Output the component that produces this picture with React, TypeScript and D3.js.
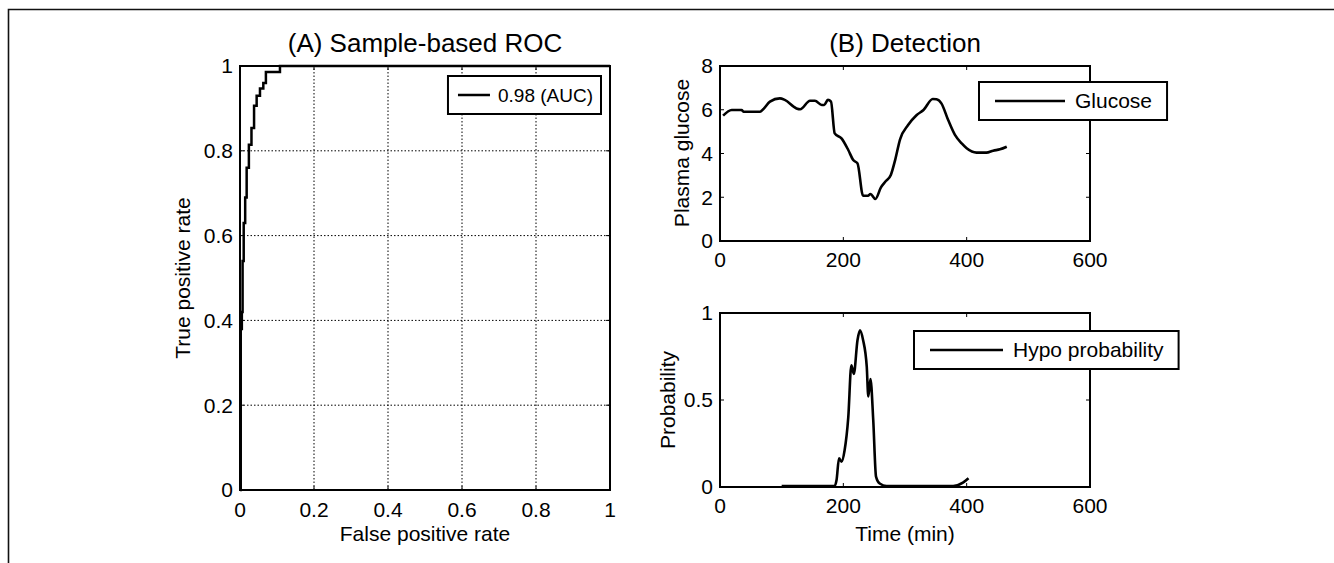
import React, { useEffect, useRef } from "react";
import * as d3 from "d3";

// (A) ROC curve, stair-step corners
const rocFpr = [0, 0.002, 0.005, 0.007, 0.01, 0.014, 0.018, 0.024, 0.031, 0.038, 0.045, 0.054, 0.063, 0.07, 0.108, 1];
const rocTpr = [0, 0.38, 0.42, 0.54, 0.63, 0.69, 0.76, 0.814, 0.854, 0.906, 0.93, 0.947, 0.96, 0.986, 1, 1];
const rocTicks = [0, 0.2, 0.4, 0.6, 0.8, 1];
const rocLegend = "0.98 (AUC)";

// (B) glucose trace
const glucoseTime = [5, 19, 35, 38, 65, 70, 81, 97, 105, 124, 130, 146, 154, 165, 169, 175, 180, 186, 197, 208, 216, 223, 232, 240, 244, 252, 261, 269, 277, 284, 292, 305, 319, 330, 345, 351, 359, 370, 381, 392, 400, 416, 432, 443, 454, 465];
const glucoseValue = [5.73, 5.99, 5.99, 5.91, 5.91, 6.02, 6.37, 6.52, 6.45, 6.06, 6.02, 6.41, 6.41, 6.22, 6.22, 6.45, 6.37, 4.92, 4.69, 4.16, 3.7, 3.55, 2.07, 2.07, 2.15, 1.92, 2.45, 2.74, 3.02, 3.7, 4.65, 5.3, 5.76, 5.99, 6.49, 6.48, 6.29, 5.53, 4.85, 4.46, 4.24, 4.04, 4.04, 4.13, 4.19, 4.31];
const glucoseYTicks = [0, 2, 4, 6, 8];

// (B) hypo probability trace
const probTime = [100, 186, 189, 193, 197, 202, 208, 213, 217, 223, 227, 232, 238, 240.5, 244, 248.5, 253, 259, 270, 378, 394, 403];
const probValue = [0.006, 0.006, 0.04, 0.165, 0.145, 0.21, 0.4, 0.7, 0.65, 0.845, 0.9, 0.845, 0.69, 0.52, 0.62, 0.385, 0.06, 0.02, 0.006, 0.006, 0.025, 0.05];
const probYTicks = [0, 0.5, 1];

const timeTicks = [0, 200, 400, 600];

const FONT = "'Liberation Sans', Arial, Helvetica, sans-serif";
const FS = 21;

function drawBox(g, x, y, xTicks, yTicks, xFmt, yFmt, grid, labelDy) {
  const [x0, x1] = x.range();
  const [y0, y1] = y.range();

  if (grid) {
    g.selectAll(".gx")
      .data(xTicks.slice(1, -1))
      .join("line")
      .attr("x1", (d) => x(d))
      .attr("x2", (d) => x(d))
      .attr("y1", y0)
      .attr("y2", y1)
      .attr("stroke", "#000")
      .attr("stroke-width", 1)
      .attr("stroke-dasharray", "1.5,2");
    g.selectAll(".gy")
      .data(yTicks.slice(1, -1))
      .join("line")
      .attr("x1", x0)
      .attr("x2", x1)
      .attr("y1", (d) => y(d))
      .attr("y2", (d) => y(d))
      .attr("stroke", "#000")
      .attr("stroke-width", 1)
      .attr("stroke-dasharray", "1.5,2");
  }

  const tl = 4;
  xTicks.forEach((t) => {
    g.append("line").attr("x1", x(t)).attr("x2", x(t)).attr("y1", y0).attr("y2", y0 - tl).attr("stroke", "#000");
    g.append("line").attr("x1", x(t)).attr("x2", x(t)).attr("y1", y1).attr("y2", y1 + tl).attr("stroke", "#000");
  });
  yTicks.forEach((t) => {
    g.append("line").attr("x1", x0).attr("x2", x0 + tl).attr("y1", y(t)).attr("y2", y(t)).attr("stroke", "#000");
    g.append("line").attr("x1", x1).attr("x2", x1 - tl).attr("y1", y(t)).attr("y2", y(t)).attr("stroke", "#000");
  });

  g.append("rect")
    .attr("x", x0)
    .attr("y", y1)
    .attr("width", x1 - x0)
    .attr("height", y0 - y1)
    .attr("fill", "none")
    .attr("stroke", "#000")
    .attr("stroke-width", 2);

  g.selectAll(".xl")
    .data(xTicks)
    .join("text")
    .attr("x", (d) => x(d))
    .attr("y", y0 + labelDy)
    .attr("text-anchor", "middle")
    .attr("font-size", FS)
    .text(xFmt);

  g.selectAll(".yl")
    .data(yTicks)
    .join("text")
    .attr("x", x0 - 7)
    .attr("y", (d) => y(d))
    .attr("dy", "0.35em")
    .attr("text-anchor", "end")
    .attr("font-size", FS)
    .text(yFmt);
}

// legend box: [pad | line | gap | text | pad]; anchor is the left edge, or the right edge when fromRight
function drawLegend(g, anchor, top, label, lineLen, fontSize, padL, gap, padR, fromRight) {
  const lg = g.append("g");
  const txt = lg
    .append("text")
    .attr("y", top + 19)
    .attr("dy", "0.35em")
    .attr("font-size", fontSize)
    .text(label);
  const tw = (txt.node() as SVGTextElement).getComputedTextLength();
  const w = padL + lineLen + gap + tw + padR;
  const left = fromRight ? anchor - w : anchor;
  txt.attr("x", left + padL + lineLen + gap);
  lg.insert("rect", "text")
    .attr("x", left)
    .attr("y", top)
    .attr("width", w)
    .attr("height", 38)
    .attr("fill", "#fff")
    .attr("stroke", "#000")
    .attr("stroke-width", 2);
  lg.append("line")
    .attr("x1", left + padL)
    .attr("x2", left + padL + lineLen)
    .attr("y1", top + 19)
    .attr("y2", top + 19)
    .attr("stroke", "#000")
    .attr("stroke-width", 2.5);
}

export default function App() {
  const ref = useRef<SVGSVGElement>(null);

  useEffect(() => {
    const svg = d3.select(ref.current);
    svg.selectAll("*").remove();
    svg.attr("font-family", FONT);

    // outer frame (top and left edges visible)
    svg
      .append("path")
      .attr("d", "M8.5,563 V9.5 H1334")
      .attr("fill", "none")
      .attr("stroke", "#111")
      .attr("stroke-width", 1.6);

    // (A) ROC
    const ga = svg.append("g");
    const xa = d3.scaleLinear().domain([0, 1]).range([240, 610]);
    const ya = d3.scaleLinear().domain([0, 1]).range([490, 66]);
    drawBox(ga, xa, ya, rocTicks, rocTicks, (d) => d3.format("~g")(d), (d) => d3.format("~g")(d), true, 27);
    const rocPts = rocFpr.map((f, i) => [f, rocTpr[i]]);
    ga.append("path")
      .attr("d", d3.line().x((d) => xa(d[0])).y((d) => ya(d[1])).curve(d3.curveStepAfter)(rocPts))
      .attr("fill", "none")
      .attr("stroke", "#000")
      .attr("stroke-width", 2.5);
    drawLegend(ga, 601, 76, rocLegend, 32, 19, 10, 8, 8, true);
    ga.append("text").attr("x", 425).attr("y", 52).attr("text-anchor", "middle").attr("font-size", 26).text("(A) Sample-based ROC");
    ga.append("text").attr("x", 425).attr("y", 541).attr("text-anchor", "middle").attr("font-size", FS).text("False positive rate");
    ga.append("text")
      .attr("transform", "translate(190,278) rotate(-90)")
      .attr("text-anchor", "middle")
      .attr("font-size", FS)
      .text("True positive rate");

    // (B) glucose
    const gb = svg.append("g");
    const xb = d3.scaleLinear().domain([0, 600]).range([720, 1090]);
    const yb = d3.scaleLinear().domain([0, 8]).range([241, 66]);
    drawBox(gb, xb, yb, timeTicks, glucoseYTicks, (d) => d, (d) => d, false, 26);
    gb.append("path")
      .attr("d", d3.line().x((d) => xb(d[0])).y((d) => yb(d[1])).curve(d3.curveMonotoneX)(glucoseTime.map((t, i) => [t, glucoseValue[i]])))
      .attr("fill", "none")
      .attr("stroke", "#000")
      .attr("stroke-width", 2.6);
    drawLegend(gb, 979, 82, "Glucose", 70, FS, 16, 10, 15, false);
    gb.append("text").attr("x", 905).attr("y", 52).attr("text-anchor", "middle").attr("font-size", 26).text("(B) Detection");
    gb.append("text")
      .attr("transform", "translate(689,153) rotate(-90)")
      .attr("text-anchor", "middle")
      .attr("font-size", FS)
      .text("Plasma glucose");

    // (B) probability
    const gc = svg.append("g");
    const xc = d3.scaleLinear().domain([0, 600]).range([720, 1090]);
    const yc = d3.scaleLinear().domain([0, 1]).range([487, 313]);
    drawBox(gc, xc, yc, timeTicks, probYTicks, (d) => d, (d) => d, false, 26);
    gc.append("path")
      .attr("d", d3.line().x((d) => xc(d[0])).y((d) => yc(d[1])).curve(d3.curveMonotoneX)(probTime.map((t, i) => [t, probValue[i]])))
      .attr("fill", "none")
      .attr("stroke", "#000")
      .attr("stroke-width", 2.6);
    drawLegend(gc, 914, 331, "Hypo probability", 73, FS, 16, 10, 15, false);
    gc.append("text").attr("x", 905).attr("y", 541).attr("text-anchor", "middle").attr("font-size", FS).text("Time (min)");
    gc.append("text")
      .attr("transform", "translate(675,400) rotate(-90)")
      .attr("text-anchor", "middle")
      .attr("font-size", FS)
      .text("Probability");
  }, []);

  return (
    <svg
      ref={ref}
      width={1334}
      height={563}
      style={{ position: "absolute", left: 0, top: 0, background: "#fff" }}
    />
  );
}
